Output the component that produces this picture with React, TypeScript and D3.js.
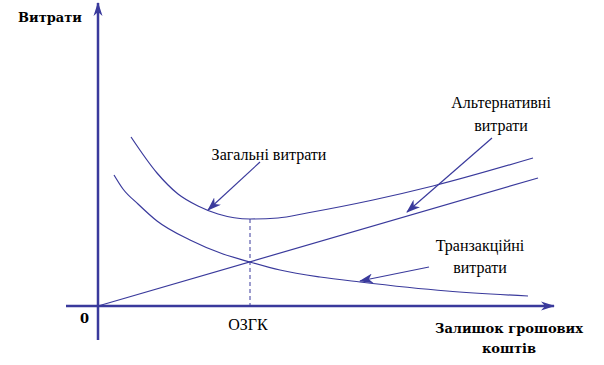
import React from 'react';
import * as d3 from 'd3';

// values (x: money balance, y: costs, arbitrary units)
const altX = [0, 440];
const altY = [0, 128];

const transX = [16, 25, 40, 59, 92, 125, 152, 182, 222, 262, 349, 430];
const transY = [131, 117, 102, 85, 66, 52, 44, 36, 29, 24, 15, 10];

const totalX = [33, 59, 80, 100, 120, 152, 180, 209, 275, 335, 435];
const totalY = [169, 133, 112, 100, 92, 87, 88, 93, 106, 120, 148];

const optimumX = 152;
const optimumY = 87;

const yTitle = 'Витрати';
const xTitle = ['Залишок грошових', 'коштів'];
const optimumLabel = 'ОЗГК';

const W = 604;
const H = 365;
const COLOR = '#3a3a9c';

const App = () => {
  const x = d3.scaleLinear().domain([0, 456]).range([98, 554]);
  const y = d3.scaleLinear().domain([0, 300]).range([306, 6]);

  const line = d3.line<[number, number]>()
    .x(d => x(d[0]))
    .y(d => y(d[1]))
    .curve(d3.curveMonotoneX);

  const zip = (a: number[], b: number[]) => a.map((v, i) => [v, b[i]] as [number, number]);

  const serif = 'Liberation Serif, serif';
  const bold = 'DejaVu Serif, serif';

  // annotation arrows: [from, to] in data units
  const pointers: [number, number, number, number][] = [
    [162, 144, 110, 96],
    [394, 168, 309, 94],
    [331, 39, 262, 25],
  ];

  return (
    <div style={{ position: 'absolute', left: 0, top: 0 }}>
      <svg width={W} height={H} viewBox={`0 0 ${W} ${H}`} style={{ display: 'block', background: '#fff' }}>
        <defs>
          <marker id="axisHead" markerUnits="userSpaceOnUse" viewBox="0 0 14 10" refX="13" refY="5"
            markerWidth="14" markerHeight="10" orient="auto">
            <path d="M0,0.5 L14,5 L0,9.5 L4,5 Z" fill={COLOR} />
          </marker>
          <marker id="ptrHead" markerUnits="userSpaceOnUse" viewBox="0 0 14 10" refX="13" refY="5"
            markerWidth="14" markerHeight="10" orient="auto">
            <path d="M0,0 L14,5 L0,10 L4,5 Z" fill={COLOR} />
          </marker>
        </defs>

        {/* axes */}
        <line x1={x(0)} y1={340} x2={x(0)} y2={3} stroke={COLOR} strokeWidth={2.5} markerEnd="url(#axisHead)" />
        <line x1={66} y1={y(0)} x2={554} y2={y(0)} stroke={COLOR} strokeWidth={2.5} markerEnd="url(#axisHead)" />

        {/* optimum guide */}
        <line x1={x(optimumX)} y1={y(optimumY)} x2={x(optimumX)} y2={y(0)}
          stroke={COLOR} strokeWidth={1} strokeDasharray="4,3" />

        {/* curves */}
        <path d={line(zip(altX, altY)) || ''} fill="none" stroke={COLOR} strokeWidth={1.2} />
        <path d={line(zip(transX, transY)) || ''} fill="none" stroke={COLOR} strokeWidth={1.2} />
        <path d={line(zip(totalX, totalY)) || ''} fill="none" stroke={COLOR} strokeWidth={1.2} />

        {/* pointers */}
        {pointers.map((p, i) => (
          <line key={i} x1={x(p[0])} y1={y(p[1])} x2={x(p[2])} y2={y(p[3])}
            stroke={COLOR} strokeWidth={1.2} markerEnd="url(#ptrHead)" />
        ))}

        {/* labels */}
        <text x={18} y={22} fontFamily={bold} fontWeight="bold" fontSize={13} fill="#000">{yTitle}</text>
        <text x={80} y={323} fontFamily={bold} fontWeight="bold" fontSize={13} fill="#000">0</text>
        <text x={x(optimumX) - 2} y={330} textAnchor="middle" fontFamily={serif} fontSize={16} fill="#000">{optimumLabel}</text>
        <text x={509} y={333} textAnchor="middle" fontFamily={bold} fontWeight="bold" fontSize={13} fill="#000">{xTitle[0]}</text>
        <text x={509} y={353} textAnchor="middle" fontFamily={bold} fontWeight="bold" fontSize={13} fill="#000">{xTitle[1]}</text>

        <text x={269} y={160} textAnchor="middle" fontFamily={serif} fontSize={16} fill="#000">Загальні витрати</text>
        <text x={501} y={108} textAnchor="middle" fontFamily={serif} fontSize={16} fill="#000">Альтернативні</text>
        <text x={501} y={131} textAnchor="middle" fontFamily={serif} fontSize={16} fill="#000">витрати</text>
        <text x={480} y={251} textAnchor="middle" fontFamily={serif} fontSize={16} fill="#000">Транзакційні</text>
        <text x={480} y={273} textAnchor="middle" fontFamily={serif} fontSize={16} fill="#000">витрати</text>
      </svg>
    </div>
  );
};

export default App;
